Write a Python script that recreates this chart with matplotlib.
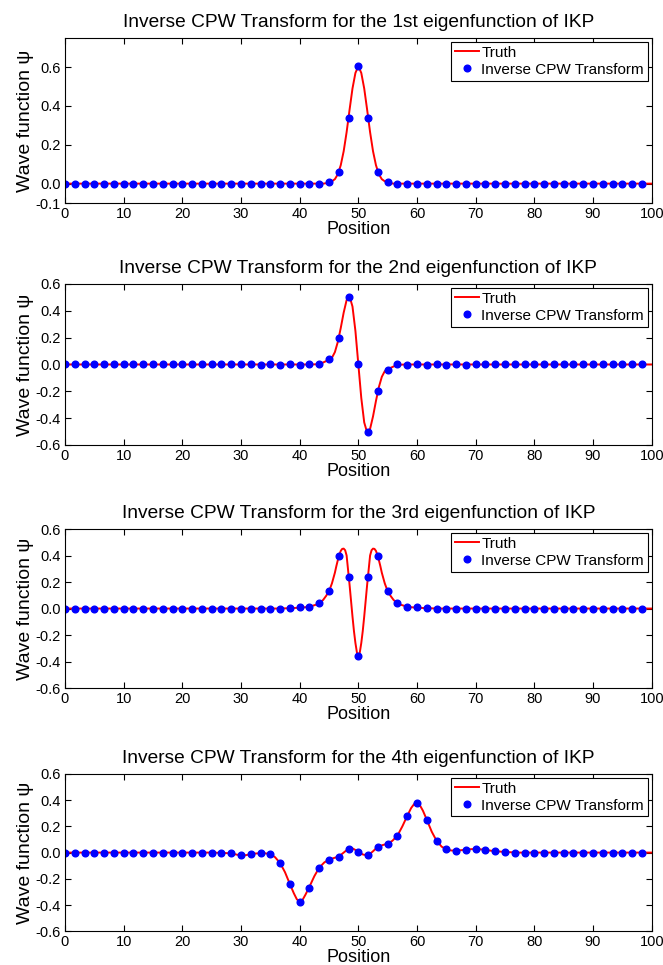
import numpy as np
import matplotlib
matplotlib.use("Agg")
from matplotlib import pyplot as plt

plt.rcParams['font.family'] = ['Liberation Sans', 'DejaVu Sans']

# sample positions of the inverse CPW transform (60 points, step 100/60)
pos = np.arange(60) * 100.0 / 60.0

titles = ["Inverse CPW Transform for the 1st eigenfunction of IKP",
          "Inverse CPW Transform for the 2nd eigenfunction of IKP",
          "Inverse CPW Transform for the 3rd eigenfunction of IKP",
          "Inverse CPW Transform for the 4th eigenfunction of IKP"]

# ---- panel 1 ----
cpw1 = [0.0]*27 + [0.01, 0.06, 0.34, 0.605, 0.34, 0.06, 0.01] + [0.0]*26
truth1_x = [0, 44, 44.5, 45, 45.5, 46, 46.5, 47, 47.5, 48, 48.5, 49, 49.5, 50,
            50.5, 51, 51.5, 52, 52.5, 53, 53.5, 54, 54.5, 55, 55.5, 56, 100]
truth1_y = [0, 0, 0.002, 0.005, 0.012, 0.023, 0.048, 0.095, 0.167, 0.265, 0.38, 0.49, 0.57, 0.605,
            0.57, 0.49, 0.38, 0.265, 0.167, 0.095, 0.048, 0.023, 0.012, 0.005, 0.002, 0, 0]

# ---- panel 2 ----
cpw2 = [0.0]*18 + [0.0, 0.003, -0.002, 0.003, -0.003, 0.004, -0.003, 0.004, 0.0,
                   0.04, 0.20, 0.505, 0.0, -0.505, -0.20, -0.04, 0.0,
                   -0.003, 0.004, -0.003, 0.004, -0.002, 0.003, -0.002, 0.003] + [0.0]*17
truth2_x = [0, 42, 43, 43.5, 44, 44.5, 45, 45.5, 46, 46.5, 47, 47.5, 48, 48.5, 49, 49.5, 50,
            50.5, 51, 51.5, 52, 52.5, 53, 53.5, 54, 54.5, 55, 55.5, 56, 56.5, 57, 58, 100]
truth2_y = [0, 0, 0.002, 0.006, 0.015, 0.025, 0.035, 0.05, 0.092, 0.168, 0.272, 0.387, 0.48, 0.508, 0.432, 0.25, 0.0,
            -0.25, -0.432, -0.508, -0.48, -0.387, -0.272, -0.168, -0.092, -0.05, -0.035, -0.025, -0.015, -0.006, -0.002, 0, 0]

# ---- panel 3 ----
cpw3 = [0.0]*23 + [0.003, 0.01, 0.012, 0.04, 0.13, 0.40, 0.24, -0.355,
                   0.24, 0.40, 0.13, 0.04, 0.012, 0.01, 0.003] + [0.0]*22
truth3_x = [0, 36, 38, 40, 41, 42, 43, 43.5, 44, 44.5, 45, 45.5, 46, 46.25, 46.5, 46.75, 47, 47.25,
            47.5, 47.75, 48, 48.25, 48.5, 48.75, 49, 49.25, 49.5, 49.75, 50,
            50.25, 50.5, 50.75, 51, 51.25, 51.5, 51.75, 52, 52.25, 52.5, 52.75, 53, 53.25, 53.5,
            53.75, 54, 54.5, 55, 55.5, 56, 56.5, 57, 58, 59, 60, 62, 64, 100]
truth3_y = [0, 0, 0.002, 0.006, 0.01, 0.018, 0.032, 0.045, 0.065, 0.095, 0.13, 0.19, 0.27, 0.32, 0.365, 0.405, 0.435, 0.45,
            0.452, 0.44, 0.40, 0.29, 0.18, 0.06, -0.06, -0.17, -0.26, -0.33, -0.365,
            -0.33, -0.26, -0.17, -0.06, 0.06, 0.18, 0.29, 0.40, 0.44, 0.452, 0.45, 0.435, 0.405, 0.365,
            0.32, 0.27, 0.19, 0.13, 0.095, 0.065, 0.045, 0.032, 0.018, 0.01, 0.006, 0.002, 0, 0]

# ---- panel 4 ----
cpw4 = [0.0]*16 + [-0.002, -0.005, -0.022, -0.012, -0.005, -0.012, -0.078, -0.24, -0.375,
                   -0.27, -0.117, -0.053, -0.034, 0.03, 0.007, -0.02, 0.044, 0.066, 0.13,
                   0.28, 0.38, 0.248, 0.09, 0.024, 0.015, 0.022, 0.027, 0.02, 0.01, 0.005] + [0.0]*14
truth4_x = [0, 25, 27, 28.33, 29.2, 30, 30.8, 31.67, 32.5, 33.33, 34.2, 35, 35.8, 36.67, 37.5, 38.33,
            39, 39.5, 40, 40.5, 41, 41.67, 42.5, 43.33, 44.2, 45, 45.8, 46.67, 47.5, 48.33, 49,
            49.5, 50, 50.8, 51.67, 52.5, 53.33, 54.2, 55, 55.8, 56.67, 57.5, 58.33, 59, 59.5, 60,
            60.5, 61, 61.67, 62.5, 63.33, 64.2, 65, 65.8, 66.67, 67.5, 68.33, 69.2, 70, 70.8,
            71.67, 72.5, 73.33, 75, 77, 100]
truth4_y = [0, 0, -0.003, -0.006, -0.015, -0.022, -0.02, -0.012, -0.007, -0.005, -0.006, -0.012, -0.035, -0.08, -0.15, -0.24,
            -0.31, -0.355, -0.378, -0.36, -0.32, -0.26, -0.18, -0.115, -0.075, -0.053, -0.042, -0.03, 0.0, 0.03, 0.032,
            0.02, 0.005, -0.015, -0.022, 0.01, 0.045, 0.058, 0.068, 0.09, 0.13, 0.2, 0.28, 0.34, 0.37, 0.38,
            0.36, 0.32, 0.25, 0.16, 0.09, 0.045, 0.025, 0.016, 0.015, 0.018, 0.022, 0.026, 0.027, 0.025,
            0.02, 0.015, 0.01, 0.005, 0, 0]

cpw_sets = [cpw1, cpw2, cpw3, cpw4]
truth_sets = [(truth1_x, truth1_y), (truth2_x, truth2_y), (truth3_x, truth3_y), (truth4_x, truth4_y)]
ylims = [(-0.1, 0.75), (-0.6, 0.6), (-0.6, 0.6), (-0.6, 0.6)]
yticks = [[-0.1, 0.0, 0.2, 0.4, 0.6],
          [-0.6, -0.4, -0.2, 0.0, 0.2, 0.4, 0.6],
          [-0.6, -0.4, -0.2, 0.0, 0.2, 0.4, 0.6],
          [-0.6, -0.4, -0.2, 0.0, 0.2, 0.4, 0.6]]

# axes boxes in figure fractions (left, bottom, width, height)
boxes = [[0.098, 0.7896, 0.885, 0.171],
         [0.098, 0.5389, 0.885, 0.1668],
         [0.098, 0.2870, 0.885, 0.1648],
         [0.098, 0.0350, 0.885, 0.1630]]

fig = plt.figure(figsize=(6.63, 9.65), dpi=100)

for i in range(4):
    ax = fig.add_axes(boxes[i])
    tx, ty = truth_sets[i]
    ax.plot(tx, ty, color='red', lw=1.4, label='Truth')
    ax.plot(pos, cpw_sets[i], 'o', color='blue', ms=4.8, mec='blue', label='Inverse CPW Transform')
    ax.set_xlim(0, 100)
    ax.set_ylim(*ylims[i])
    ax.set_xticks(range(0, 101, 10))
    ax.set_yticks(yticks[i])
    ax.set_yticklabels(['%.1f' % v for v in yticks[i]])
    ax.tick_params(direction='in', top=True, right=True, labelsize=10.5, length=4, pad=3)
    ax.set_title(titles[i], fontsize=13.8, pad=8)
    ax.set_xlabel('Position', fontsize=13, labelpad=0)
    ax.set_ylabel('Wave function ψ', fontsize=14, labelpad=1)
    leg = ax.legend(loc='upper right', fontsize=11, fancybox=False, framealpha=1,
                    edgecolor='black', borderaxespad=0.25, handlelength=1.6,
                    handletextpad=0.15, borderpad=0.25, labelspacing=0.2, numpoints=1)
    leg.get_frame().set_linewidth(0.8)

fig.savefig('out.png', dpi=100)
